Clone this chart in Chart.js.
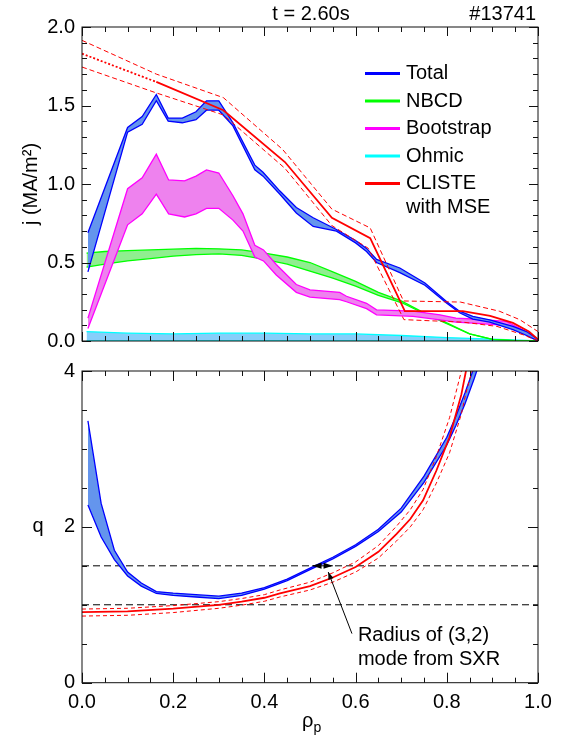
<!DOCTYPE html>
<html>
<head>
<meta charset="utf-8">
<script src="https://cdn.jsdelivr.net/npm/chart.js@4.4.0/dist/chart.umd.min.js"></script>
<style>
  html, body { margin: 0; padding: 0; background: #fff; }
  #wrap { position: relative; width: 563px; height: 742px; }
  canvas { position: absolute; left: 0; }
  #jChart { top: 0; }
  #qChart { top: 352px; }
</style>
</head>
<body>
<div id="wrap">
  <canvas id="jChart" width="563" height="360"></canvas>
  <canvas id="qChart" width="563" height="390"></canvas>
</div>
<script>
// ---- top panel: current density j (MA/m^2) vs rho_p ----
const totalRho  = [0.013, 0.10, 0.132, 0.163, 0.189, 0.22, 0.25, 0.273, 0.30, 0.331, 0.379, 0.397, 0.434, 0.47, 0.507, 0.558, 0.60, 0.624, 0.646, 0.697, 0.752, 0.80, 0.828, 0.857, 0.894, 0.945, 0.975, 1.0];
const totalHigh = [0.69, 1.36, 1.43, 1.57, 1.42, 1.42, 1.46, 1.53, 1.53, 1.39, 1.12, 1.075, 0.955, 0.85, 0.785, 0.71, 0.64, 0.59, 0.52, 0.465, 0.37, 0.25, 0.19, 0.157, 0.135, 0.093, 0.06, 0.01];
const totalLow  = [0.44, 1.33, 1.38, 1.53, 1.40, 1.39, 1.41, 1.47, 1.47, 1.37, 1.09, 1.05, 0.935, 0.815, 0.73, 0.70, 0.625, 0.57, 0.50, 0.435, 0.355, 0.24, 0.18, 0.14, 0.12, 0.073, 0.035, 0.0];

const nbcdRho  = [0.01, 0.05, 0.10, 0.15, 0.20, 0.25, 0.30, 0.35, 0.40, 0.45, 0.50, 0.55, 0.60, 0.65, 0.70, 0.75, 0.80, 0.85, 0.90, 0.95, 1.0];
const nbcdHigh = [0.56, 0.57, 0.575, 0.58, 0.585, 0.59, 0.587, 0.58, 0.56, 0.535, 0.50, 0.44, 0.38, 0.31, 0.255, 0.18, 0.115, 0.045, 0.01, 0.003, 0.0];
const nbcdLow  = [0.47, 0.49, 0.51, 0.525, 0.54, 0.55, 0.555, 0.545, 0.52, 0.49, 0.445, 0.40, 0.35, 0.29, 0.245, 0.175, 0.11, 0.045, 0.01, 0.003, 0.0];

const bootRho  = [0.013, 0.10, 0.132, 0.163, 0.19, 0.225, 0.25, 0.273, 0.30, 0.331, 0.353, 0.379, 0.398, 0.426, 0.47, 0.50, 0.565, 0.58, 0.624, 0.646, 0.726, 0.785, 0.82, 0.857, 0.93, 0.967, 1.0];
const bootHigh = [0.146, 0.97, 1.04, 1.19, 1.026, 1.02, 1.05, 1.09, 1.07, 0.925, 0.81, 0.61, 0.58, 0.487, 0.36, 0.325, 0.31, 0.285, 0.24, 0.198, 0.19, 0.167, 0.146, 0.14, 0.125, 0.07, 0.0];
const bootLow  = [0.08, 0.74, 0.81, 0.935, 0.81, 0.79, 0.81, 0.845, 0.845, 0.77, 0.70, 0.535, 0.51, 0.42, 0.31, 0.28, 0.263, 0.25, 0.206, 0.167, 0.157, 0.135, 0.12, 0.114, 0.10, 0.05, 0.0];

const ohmRho  = [0.01, 0.10, 0.20, 0.30, 0.40, 0.50, 0.60, 0.70, 0.80, 0.90, 1.0];
const ohmHigh = [0.06, 0.05, 0.045, 0.05, 0.05, 0.045, 0.045, 0.035, 0.022, 0.012, 0.0];
const ohmLow  = [0.0, 0.0, 0.0, 0.0, 0.0, 0.0, 0.0, 0.0, 0.0, 0.0, 0.0];

// CLISTE with MSE: first segment (rho < 0.163) is the dotted extrapolation
const cliRho   = [0, 0.163, 0.31, 0.445, 0.548, 0.632, 0.708, 0.835, 0.895, 0.945, 0.98, 1.0];
const cliJ     = [1.83, 1.65, 1.47, 1.14, 0.785, 0.655, 0.19, 0.19, 0.16, 0.115, 0.06, 0.01];
const cliHiRho = [0, 0.163, 0.31, 0.44, 0.548, 0.632, 0.705, 0.83, 0.915, 0.96, 1.0];
const cliHiJ   = [1.915, 1.70, 1.55, 1.22, 0.84, 0.72, 0.255, 0.248, 0.19, 0.136, 0.06];
const cliLoRho = [0, 0.163, 0.31, 0.445, 0.548, 0.628, 0.706, 0.836, 0.91, 0.967, 1.0];
const cliLoJ   = [1.745, 1.58, 1.44, 1.10, 0.735, 0.59, 0.136, 0.12, 0.093, 0.04, 0.0];

// ---- bottom panel: safety factor q ----
const qRho  = [0.013, 0.042, 0.071, 0.10, 0.13, 0.163, 0.20, 0.25, 0.30, 0.35, 0.40, 0.45, 0.50, 0.55, 0.60, 0.65, 0.70, 0.75, 0.80, 0.82, 0.84, 0.86, 0.88];
const qHigh = [3.36, 2.30, 1.70, 1.42, 1.28, 1.17, 1.15, 1.13, 1.11, 1.15, 1.22, 1.33, 1.47, 1.61, 1.77, 1.97, 2.24, 2.65, 3.15, 3.42, 3.72, 4.05, 4.4];
const qLow  = [2.28, 1.87, 1.58, 1.37, 1.24, 1.145, 1.12, 1.10, 1.08, 1.12, 1.20, 1.31, 1.45, 1.59, 1.75, 1.94, 2.19, 2.57, 3.05, 3.30, 3.58, 3.90, 4.25];

const qCliRho = [0, 0.10, 0.20, 0.30, 0.35, 0.40, 0.434, 0.50, 0.55, 0.60, 0.65, 0.69, 0.72, 0.748, 0.777, 0.806, 0.832, 0.842, 0.86];
const qCli    = [0.905, 0.915, 0.95, 1.0, 1.04, 1.09, 1.145, 1.24, 1.35, 1.485, 1.68, 1.91, 2.10, 2.34, 2.72, 3.15, 3.70, 4.0, 4.5];
const qCliHi  = [0.945, 0.955, 0.99, 1.04, 1.08, 1.13, 1.19, 1.29, 1.41, 1.55, 1.76, 2.01, 2.22, 2.48, 2.90, 3.40, 4.0, 4.35, 5.0];
const qCliLo  = [0.855, 0.865, 0.90, 0.955, 0.995, 1.045, 1.10, 1.19, 1.29, 1.42, 1.60, 1.82, 2.0, 2.22, 2.56, 2.95, 3.45, 3.72, 4.1];

const qLevels = [1.0, 1.5];          // dashed reference lines
const sxrRange = [0.505, 0.55];      // radius of (3,2) mode, at q = 1.5
const sxrQ = 1.5;

const legendItems = [
  { text: ['Total'], color: '#0000ff' },
  { text: ['NBCD'], color: '#00ff00' },
  { text: ['Bootstrap'], color: '#ff00ff' },
  { text: ['Ohmic'], color: '#00ffff' },
  { text: ['CLISTE', 'with MSE'], color: '#ff0000' }
];

const FONT = '"Liberation Sans", Arial, Helvetica, sans-serif';

function pts(xs, ys) {
  return xs.map((x, i) => ({ x: x, y: ys[i] }));
}

// upper edge + lower edge filled back to the upper one
function band(label, xs, hi, lo, line, fillColor, order) {
  return [
    { label: label, data: pts(xs, hi), borderColor: line, borderWidth: 1.3, fill: false, order: order },
    { label: label + ' low', data: pts(xs, lo), borderColor: line, borderWidth: 1.3,
      backgroundColor: fillColor, fill: '-1', order: order }
  ];
}

// frame with inward ticks on all four sides
const frameTicks = {
  id: 'frameTicks',
  afterDatasetsDraw(chart, args, opts) {
    const { ctx, chartArea: a, scales: { x, y } } = chart;
    ctx.save();
    ctx.strokeStyle = '#111';
    ctx.lineWidth = 1;
    ctx.strokeRect(a.left, a.top, a.right - a.left, a.bottom - a.top);
    ctx.beginPath();
    const isMajor = (v, step) => Math.abs(v / step - Math.round(v / step)) < 1e-6;
    let n = Math.round((x.max - x.min) / opts.xMinor);
    for (let i = 0; i <= n; i++) {
      const v = x.min + i * opts.xMinor;
      const px = Math.round(x.getPixelForValue(v)) + 0.5;
      const len = isMajor(v, opts.xMajor) ? opts.majorLen : opts.minorLen;
      ctx.moveTo(px, a.bottom); ctx.lineTo(px, a.bottom - len);
      ctx.moveTo(px, a.top); ctx.lineTo(px, a.top + len);
    }
    n = Math.round((y.max - y.min) / opts.yMinor);
    for (let i = 0; i <= n; i++) {
      const v = y.min + i * opts.yMinor;
      const py = Math.round(y.getPixelForValue(v)) + 0.5;
      const len = isMajor(v, opts.yMajor) ? opts.majorLen : opts.minorLen;
      ctx.moveTo(a.left, py); ctx.lineTo(a.left + len, py);
      ctx.moveTo(a.right, py); ctx.lineTo(a.right - len, py);
    }
    ctx.stroke();
    ctx.restore();
  }
};

const jDecor = {
  id: 'jDecor',
  afterDraw(chart) {
    const { ctx, chartArea: a } = chart;
    ctx.save();
    ctx.fillStyle = '#000';
    ctx.font = '20px ' + FONT;
    ctx.textBaseline = 'middle';
    ctx.textAlign = 'center';
    ctx.fillText('t = 2.60s', 311, 14);
    ctx.textAlign = 'right';
    ctx.fillText('#13741', a.right - 2, 14);
    // y title
    ctx.save();
    ctx.translate(31, (a.top + a.bottom) / 2);
    ctx.rotate(-Math.PI / 2);
    ctx.textAlign = 'center';
    ctx.fillText('j (MA/m\u00b2)', 0, 0);
    ctx.restore();
    // legend
    const lx = a.right - 173, tx = a.right - 132;
    let yy = a.top + 46.5;
    ctx.textAlign = 'left';
    legendItems.forEach(item => {
      ctx.strokeStyle = item.color;
      ctx.lineWidth = 3;
      ctx.beginPath();
      ctx.moveTo(lx, yy); ctx.lineTo(lx + 35, yy);
      ctx.stroke();
      item.text.forEach((t, k) => ctx.fillText(t, tx, yy + k * 24));
      yy += 27.5;
    });
    ctx.restore();
  }
};

const qDecor = {
  id: 'qDecor',
  afterDraw(chart) {
    const { ctx, chartArea: a, scales: { x, y } } = chart;
    ctx.save();
    ctx.fillStyle = '#000';
    ctx.strokeStyle = '#000';
    ctx.font = '20px ' + FONT;
    ctx.textBaseline = 'middle';
    ctx.textAlign = 'center';
    ctx.fillText('q', 38, (a.top + a.bottom) / 2);
    // x title rho_p
    ctx.textBaseline = 'alphabetic';
    ctx.textAlign = 'left';
    const cx = (a.left + a.right) / 2 - 8;
    ctx.fillText('\u03c1', cx, 375);
    const w = ctx.measureText('\u03c1').width;
    ctx.font = '14px ' + FONT;
    ctx.fillText('p', cx + w, 380);

    // double arrow marking the (3,2) mode radius
    const yq = y.getPixelForValue(sxrQ);
    const x0 = x.getPixelForValue(sxrRange[0]);
    const x1 = x.getPixelForValue(sxrRange[1]);
    const xm = (x0 + x1) / 2;
    ctx.beginPath();
    ctx.moveTo(x0, yq); ctx.lineTo(xm - 1, yq - 3); ctx.lineTo(xm - 1, yq + 3); ctx.closePath();
    ctx.moveTo(x1, yq); ctx.lineTo(xm + 1, yq - 3); ctx.lineTo(xm + 1, yq + 3); ctx.closePath();
    ctx.fill();
    ctx.lineWidth = 1;
    ctx.beginPath();
    ctx.moveTo(x0, yq); ctx.lineTo(x1, yq);
    ctx.stroke();

    // pointer from label to arrow
    const px0 = x.getPixelForValue(0.592), py0 = y.getPixelForValue(0.63);
    const px1 = x.getPixelForValue(0.540), py1 = y.getPixelForValue(1.42);
    ctx.beginPath();
    ctx.moveTo(px0, py0); ctx.lineTo(px1, py1);
    ctx.stroke();
    const ang = Math.atan2(py1 - py0, px1 - px0);
    ctx.beginPath();
    ctx.moveTo(px1, py1);
    ctx.lineTo(px1 - 8 * Math.cos(ang - 0.35), py1 - 8 * Math.sin(ang - 0.35));
    ctx.lineTo(px1 - 8 * Math.cos(ang + 0.35), py1 - 8 * Math.sin(ang + 0.35));
    ctx.closePath();
    ctx.fill();

    ctx.font = '20px ' + FONT;
    ctx.textBaseline = 'middle';
    const lx = x.getPixelForValue(0.605);
    ctx.fillText('Radius of (3,2)', lx, y.getPixelForValue(0.61));
    ctx.fillText('mode from SXR', lx, y.getPixelForValue(0.30));
    ctx.restore();
  }
};

const tickFont = { family: FONT, size: 20 };

new Chart(document.getElementById('jChart'), {
  type: 'line',
  data: {
    datasets: [
      { label: 'CLISTE', data: pts(cliRho, cliJ), borderColor: '#ff0000', borderWidth: 1.8, fill: false, order: 0,
        segment: { borderDash: c => c.p0DataIndex === 0 ? [2, 2] : undefined } },
      { label: 'CLISTE hi', data: pts(cliHiRho, cliHiJ), borderColor: '#ff0000', borderWidth: 1, borderDash: [5, 3], fill: false, order: 0 },
      { label: 'CLISTE lo', data: pts(cliLoRho, cliLoJ), borderColor: '#ff0000', borderWidth: 1, borderDash: [5, 3], fill: false, order: 0 },
      ...band('Total', totalRho, totalHigh, totalLow, '#0000ff', '#6495ed', 1),
      ...band('Bootstrap', bootRho, bootHigh, bootLow, '#ff00ff', '#ee82ee', 2),
      ...band('NBCD', nbcdRho, nbcdHigh, nbcdLow, '#00ff00', '#90ee90', 3),
      ...band('Ohmic', ohmRho, ohmHigh, ohmLow, '#00ffff', '#87cefa', 4)
    ]
  },
  options: {
    responsive: false,
    animation: false,
    events: [],
    elements: { point: { radius: 0 }, line: { tension: 0 } },
    layout: { padding: { top: 27, right: 25, left: 0, bottom: 0 } },
    scales: {
      x: {
        type: 'linear', min: 0, max: 1,
        grid: { display: false, drawTicks: false },
        border: { display: false },
        ticks: { display: false },
        afterFit: s => { s.height = 0; }
      },
      y: {
        type: 'linear', min: 0, max: 2,
        grid: { display: false, drawTicks: false },
        border: { display: false },
        ticks: { stepSize: 0.5, padding: 7, color: '#000', font: tickFont, callback: v => v.toFixed(1) },
        afterFit: s => { s.width = 82; }
      }
    },
    plugins: {
      legend: { display: false },
      tooltip: { enabled: false },
      frameTicks: { xMinor: 0.05, xMajor: 0.2, yMinor: 0.1, yMajor: 0.5, majorLen: 9, minorLen: 5 }
    }
  },
  plugins: [frameTicks, jDecor]
});

new Chart(document.getElementById('qChart'), {
  type: 'line',
  data: {
    datasets: [
      { label: 'CLISTE q', data: pts(qCliRho, qCli), borderColor: '#ff0000', borderWidth: 1.8, fill: false, order: 0 },
      { label: 'CLISTE q hi', data: pts(qCliRho, qCliHi), borderColor: '#ff0000', borderWidth: 1, borderDash: [4, 3], fill: false, order: 0 },
      { label: 'CLISTE q lo', data: pts(qCliRho, qCliLo), borderColor: '#ff0000', borderWidth: 1, borderDash: [4, 3], fill: false, order: 0 },
      ...band('q', qRho, qHigh, qLow, '#0000ff', '#6495ed', 1),
      ...qLevels.map(l => ({ label: 'q=' + l, data: pts([0, 1], [l, l]), borderColor: '#000', borderWidth: 1,
        borderDash: [7, 4], fill: false, order: 2 }))
    ]
  },
  options: {
    responsive: false,
    animation: false,
    events: [],
    elements: { point: { radius: 0 }, line: { tension: 0 } },
    layout: { padding: { top: 18, right: 25, left: 0, bottom: 0 } },
    scales: {
      x: {
        type: 'linear', min: 0, max: 1,
        grid: { display: false, drawTicks: false },
        border: { display: false },
        ticks: { stepSize: 0.2, padding: 8, maxRotation: 0, autoSkip: false, color: '#000', font: tickFont,
          callback: v => v.toFixed(1) },
        afterFit: s => { s.height = 59.3; }
      },
      y: {
        type: 'linear', min: 0, max: 4,
        grid: { display: false, drawTicks: false },
        border: { display: false },
        ticks: { stepSize: 2, padding: 7, color: '#000', font: tickFont, callback: v => String(v) },
        afterFit: s => { s.width = 82; }
      }
    },
    plugins: {
      legend: { display: false },
      tooltip: { enabled: false },
      frameTicks: { xMinor: 0.05, xMajor: 0.2, yMinor: 0.5, yMajor: 2, majorLen: 10, minorLen: 5 }
    }
  },
  plugins: [frameTicks, qDecor]
});
</script>
</body>
</html>
